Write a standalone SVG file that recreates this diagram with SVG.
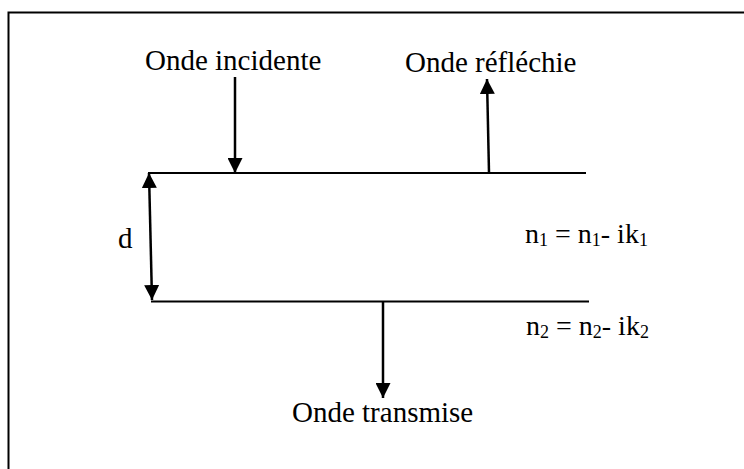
<svg xmlns="http://www.w3.org/2000/svg" width="744" height="469" viewBox="0 0 744 469">
<style>
text{font-family:"Liberation Serif","Times New Roman",serif;font-size:29px;fill:#000}
.eq{font-size:28px}
.sub{font-size:18px}
.ln{stroke:#000;stroke-width:2;fill:none}
.ar{stroke:#000;stroke-width:2.5;fill:none}
</style>
<defs>
<marker id="ah" viewBox="0 0 10 10" refX="10" refY="5" markerWidth="6" markerHeight="6" orient="auto-start-reverse" markerUnits="strokeWidth">
<path d="M0,0 L10,5 L0,10 z" fill="#000"/>
</marker>
</defs>
<rect x="8.5" y="12.5" width="760" height="480" fill="none" stroke="#000" stroke-width="2"/>
<g id="interface-top"><line class="ln" x1="148" y1="173" x2="586" y2="173"/></g>
<g id="interface-bottom"><line class="ln" x1="151" y1="301.5" x2="589" y2="301.5"/></g>
<g id="label-incidente"><text x="145" y="70">Onde incidente</text></g>
<g id="label-reflechie"><text x="405" y="72">Onde réfléchie</text></g>
<g id="label-transmise"><text x="292" y="422">Onde transmise</text></g>
<g id="label-d"><text x="118" y="248">d</text></g>
<g id="label-n1"><text class="eq" x="525" y="243">n<tspan class="sub" dy="3">1</tspan><tspan dy="-3"> = n</tspan><tspan class="sub" dy="3">1</tspan><tspan dy="-3">- ik</tspan><tspan class="sub" dy="3">1</tspan></text></g>
<g id="label-n2"><text class="eq" x="526" y="335">n<tspan class="sub" dy="3">2</tspan><tspan dy="-3"> = n</tspan><tspan class="sub" dy="3">2</tspan><tspan dy="-3">- ik</tspan><tspan class="sub" dy="3">2</tspan></text></g>
<g id="connectors">
<line class="ar" x1="235" y1="77" x2="235" y2="173" marker-end="url(#ah)"/>
<line class="ar" x1="489" y1="173" x2="487" y2="79" marker-end="url(#ah)"/>
<line class="ar" x1="149" y1="173" x2="152" y2="300" marker-start="url(#ah)" marker-end="url(#ah)"/>
<line class="ar" x1="383" y1="301" x2="383" y2="398" marker-end="url(#ah)"/>
</g>
</svg>
